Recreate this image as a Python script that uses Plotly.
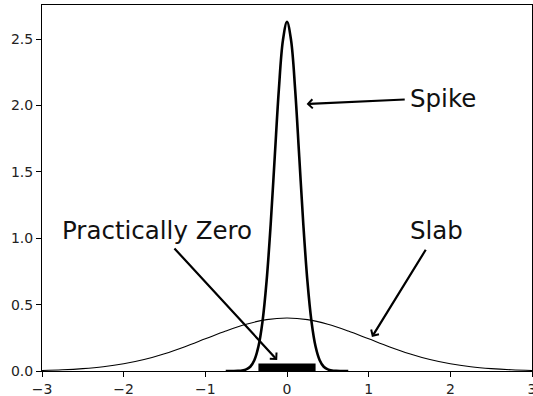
import plotly.graph_objects as go

# Spike density
spike_x = [-0.75, -0.70, -0.65, -0.60, -0.55, -0.50, -0.45, -0.40, -0.35, -0.30, -0.25, -0.20, -0.15, -0.10, -0.05,
           0.00, 0.05, 0.10, 0.15, 0.20, 0.25, 0.30, 0.35, 0.40, 0.45, 0.50, 0.55, 0.60, 0.65, 0.70, 0.75]
spike_y = [0.000, 0.000, 0.000, 0.001, 0.004, 0.012, 0.032, 0.081, 0.184, 0.372, 0.676, 1.103, 1.613, 2.117, 2.490,
           2.630, 2.490, 2.117, 1.613, 1.103, 0.676, 0.372, 0.184, 0.081, 0.032, 0.012, 0.004, 0.001, 0.000, 0.000, 0.000]

# Slab density
slab_x = [-3.0, -2.75, -2.5, -2.25, -2.0, -1.75, -1.5, -1.25, -1.0, -0.75, -0.5, -0.25,
          0.0, 0.25, 0.5, 0.75, 1.0, 1.25, 1.5, 1.75, 2.0, 2.25, 2.5, 2.75, 3.0]
slab_y = [0.004, 0.009, 0.018, 0.032, 0.054, 0.086, 0.130, 0.183, 0.242, 0.301, 0.352, 0.387,
          0.399, 0.387, 0.352, 0.301, 0.242, 0.183, 0.130, 0.086, 0.054, 0.032, 0.018, 0.009, 0.004]

# "Practically zero" region
zero_x = [-0.35, 0.35]
zero_y = [0.0, 0.0]

x_ticks = [-3, -2, -1, 0, 1, 2, 3]
y_ticks = [0.0, 0.5, 1.0, 1.5, 2.0, 2.5]

# Annotations: label, text position, arrow tail, arrow head
labels = ["Spike", "Slab", "Practically Zero"]
label_pos = [(1.5, 2.055), (1.5, 1.055), (-2.75, 1.055)]
arrow_tail = [(1.46, 2.045), (1.71, 0.924), (-1.395, 0.934)]
arrow_head = [(0.24, 2.01), (1.04, 0.256), (-0.12, 0.083)]

fig = go.Figure()
fig.add_trace(go.Scatter(x=slab_x, y=slab_y, mode="lines", line=dict(color="black", width=1.1, shape="spline"),
                         showlegend=False, hoverinfo="skip"))
fig.add_trace(go.Scatter(x=spike_x, y=spike_y, mode="lines", line=dict(color="black", width=2.6, shape="spline"),
                         showlegend=False, hoverinfo="skip"))
fig.add_trace(go.Scatter(x=zero_x, y=zero_y, mode="lines", line=dict(color="black", width=15),
                         showlegend=False, hoverinfo="skip"))

for lab, (tx, ty), (ax_, ay_), (hx, hy) in zip(labels, label_pos, arrow_tail, arrow_head):
    fig.add_annotation(x=tx, y=ty, xref="x", yref="y", text=lab, showarrow=False,
                       xanchor="left", yanchor="middle", xshift=-2,
                       font=dict(family="DejaVu Sans", size=24.5, color="#111"))
    fig.add_annotation(x=hx, y=hy, ax=ax_, ay=ay_, xref="x", yref="y", axref="x", ayref="y",
                       text="", showarrow=True, arrowhead=4, arrowsize=0.8, arrowwidth=2.2,
                       arrowcolor="black", standoff=0, startstandoff=0)

fig.update_xaxes(range=[-3, 3], tickvals=x_ticks, ticks="outside", ticklen=5, tickwidth=1, tickcolor="black",
                 showline=True, linecolor="black", linewidth=1, mirror=True, showgrid=False, zeroline=False,
                 ticklabeloverflow="allow", automargin=False,
                 tickfont=dict(family="DejaVu Sans", size=14, color="#222"))
fig.update_yaxes(range=[0, 2.756], tickvals=y_ticks, tickformat=".1f", ticks="outside", ticklen=5, tickwidth=1,
                 tickcolor="black", showline=True, linecolor="black", linewidth=1, mirror=True, showgrid=False,
                 zeroline=False, automargin=False,
                 tickfont=dict(family="DejaVu Sans", size=14, color="#222"))
fig.update_layout(width=533, height=396, margin=dict(l=42, r=1, t=5, b=25),
                  plot_bgcolor="white", paper_bgcolor="white")
fig.write_html("out.html")
